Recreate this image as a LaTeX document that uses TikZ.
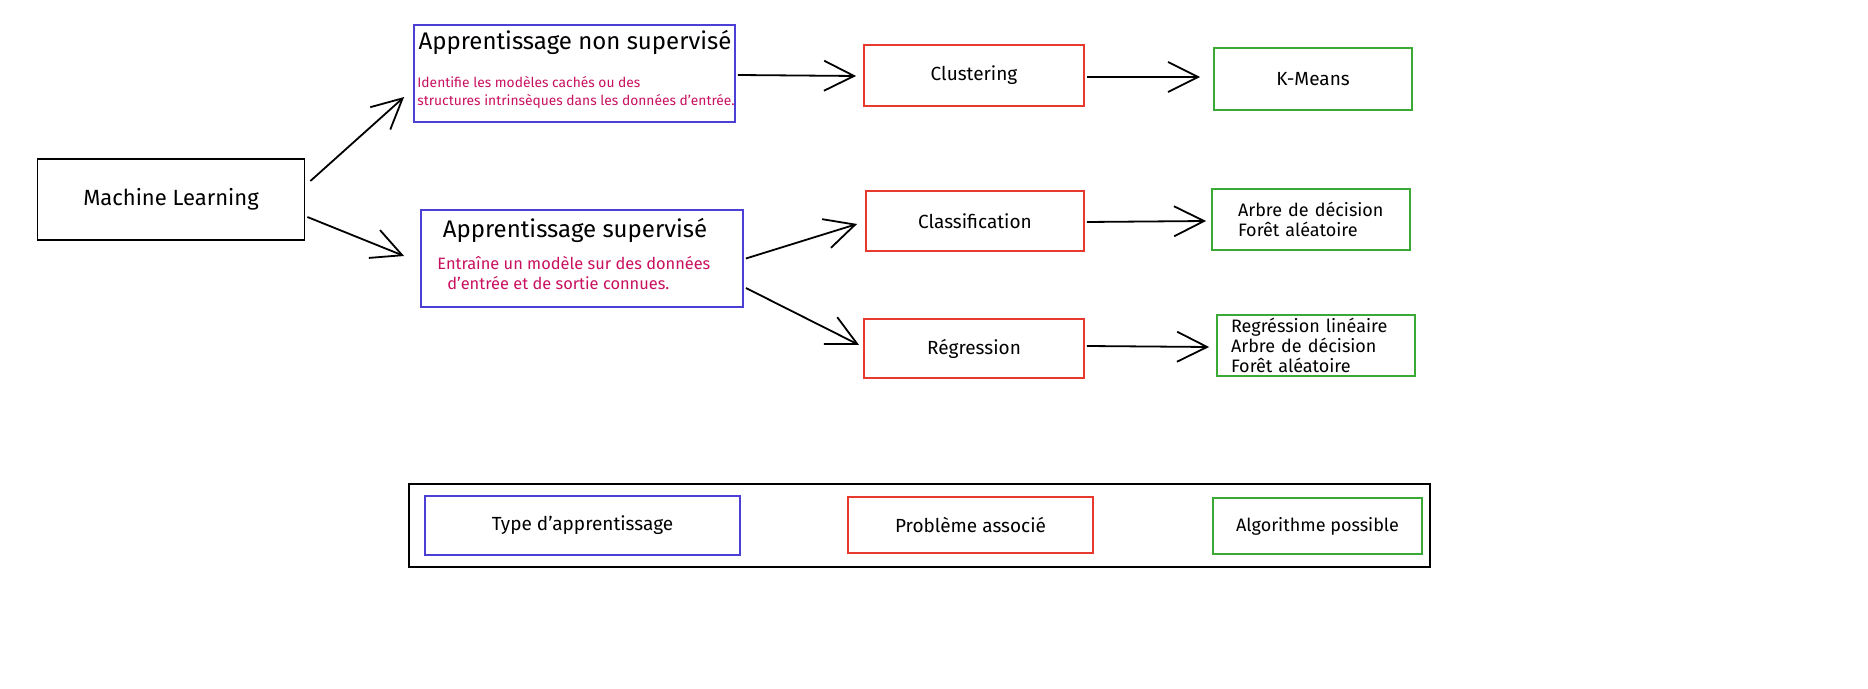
\documentclass[tikz,border=0pt]{standalone}
\usepackage{fontspec}
\setmainfont{Fira Sans}
\usetikzlibrary{arrows.meta}

\definecolor{typebleu}{HTML}{4C3FD6}
\definecolor{pbrouge}{HTML}{E8392F}
\definecolor{algovert}{HTML}{3AAA35}
\definecolor{descrose}{HTML}{C8105F}

\tikzset{
	boite/.style={draw, line width=0.9pt, inner sep=0pt},
	fleche/.style={-{Straight Barb[length=15pt,width=15pt]}, line width=0.9pt},
	texte/.style={font=\fontsize{9.5}{10}\selectfont},
	algo/.style={font=\fontsize{9}{10}\selectfont},
}

\begin{document}
\begin{tikzpicture}[x=0.5pt,y=-0.5pt]
\useasboundingbox (0,0) rectangle (1868,689);

% racine
\node[boite, minimum width=133.5pt, minimum height=40.5pt, font=\fontsize{11}{13}\selectfont] (ml) at (171,199.5) {Machine Learning};

% types d'apprentissage
\node[boite, draw=typebleu, minimum width=160.5pt, minimum height=48.5pt] (nonsup) at (574.5,73.5) {};
\node[font=\fontsize{12}{14}\selectfont] (nonsupTitre) at (575,42) {Apprentissage non supervisé};
\node[font=\fontsize{6.9}{9}\selectfont, text=descrose, align=left, anchor=west, inner sep=0pt] (nonsupDesc) at (417,92) {Identifie les modèles cachés ou des\\structures intrinsèques dans les données d'entrée.};

\node[boite, draw=typebleu, minimum width=161pt, minimum height=48.5pt] (sup) at (582,258.5) {};
\node[font=\fontsize{12}{14}\selectfont] (supTitre) at (575,230) {Apprentissage supervisé};
\node[font=\fontsize{8.2}{10}\selectfont, text=descrose, align=left, anchor=west, inner sep=0pt] (supDesc) at (437,273) {Entraîne un modèle sur des données\\\hspace*{5pt}d'entrée et de sortie connues.};

% problemes
\node[boite, draw=pbrouge, minimum width=110pt, minimum height=30.5pt, texte] (clust) at (974,75.5) {Clustering};
\node[boite, draw=pbrouge, minimum width=109pt, minimum height=30pt, texte] (classif) at (975,221) {Classification};
\node[boite, draw=pbrouge, minimum width=110pt, minimum height=29.5pt, texte] (regr) at (974,348.5) {Régression};

% algorithmes
\node[boite, draw=algovert, minimum width=99pt, minimum height=31pt, texte] (kmeans) at (1313,79) {K-Means};
\node[boite, draw=algovert, minimum height=30.5pt, inner xsep=13pt, text width=73pt, align=left, algo] (algoClassif) at (1311,219.5) {Arbre de décision\\Forêt aléatoire};
\node[boite, draw=algovert, minimum height=30.5pt, inner xsep=7pt, text width=85pt, align=left, algo] (algoRegr) at (1316,345.5) {Regréssion linéaire\\Arbre de décision\\Forêt aléatoire};

% fleches
\draw[fleche] ([shift={(5,-18.5)}]ml.east) -- ([shift={(-9,23.5)}]nonsup.west);
\draw[fleche] ([shift={(2,17.5)}]ml.east) -- ([shift={(-16,-2.5)}]sup.west);
\draw[fleche] ([shift={(2,1.5)}]nonsup.east) -- ([shift={(-7,0.5)}]clust.west);
\draw[fleche] ([shift={(2,1.5)}]clust.east) -- ([shift={(-13,-2)}]kmeans.west);
\draw[fleche] ([shift={(2,0)}]sup.east) -- ([shift={(-8,3)}]classif.west);
\draw[fleche] ([shift={(2,29.5)}]sup.east) -- ([shift={(-4,-3.5)}]regr.west);
\draw[fleche] ([shift={(2,1)}]classif.east) -- ([shift={(-5,1.5)}]algoClassif.west);
\draw[fleche] ([shift={(2,-2.5)}]regr.east) -- ([shift={(-7,1.5)}]algoRegr.west);

% legende
\node[boite, minimum width=510.5pt, minimum height=41.5pt] (legende) at (919.5,525.5) {};
\node[boite, draw=typebleu, minimum width=157.5pt, minimum height=29.5pt, font=\fontsize{9.5}{11}\selectfont] (legType) at (582.5,525.5) {Type d'apprentissage};
\node[boite, draw=pbrouge, minimum width=122.5pt, minimum height=28pt, font=\fontsize{9.5}{11}\selectfont] (legProb) at (970.5,525) {Problème associé};
\node[boite, draw=algovert, minimum width=104.5pt, minimum height=28pt, font=\fontsize{9}{11}\selectfont] (legAlgo) at (1317.5,526) {Algorithme possible};

\end{tikzpicture}
\end{document}
